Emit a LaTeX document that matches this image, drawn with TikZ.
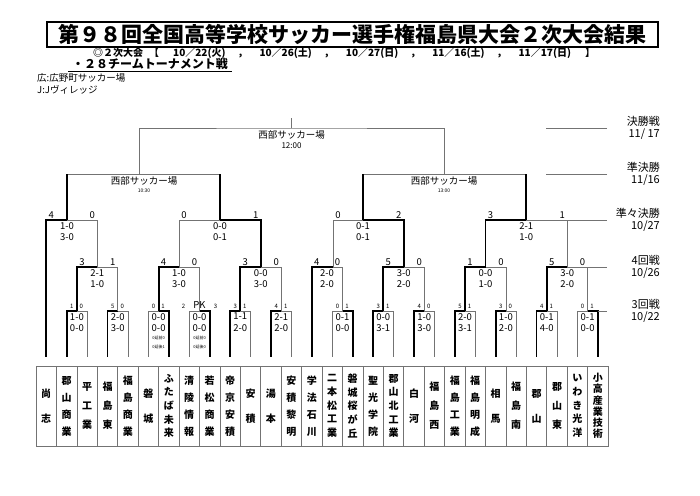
\documentclass[tikz,border=0pt]{standalone}
\usepackage{fontspec}
\setmainfont{Noto Sans CJK JP}

\begin{document}
\begin{tikzpicture}[x=1pt,y=-1pt,
    win/.style={line width=1.8pt},
    lose/.style={line width=0.6pt,draw=black!55},
    pts/.style={font=\fontsize{9.5}{9.5}\selectfont,inner sep=0pt},
    ptsm/.style={font=\fontsize{6}{6}\selectfont,inner sep=0pt},
    res/.style={font=\fontsize{9.5}{11.5}\selectfont,inner sep=0pt,align=center,anchor=north},
    ext/.style={font=\fontsize{4}{9}\selectfont,inner sep=0pt,align=center,anchor=north},
    venue/.style={font=\fontsize{9.5}{9.5}\selectfont,inner sep=0pt},
    round/.style={font=\fontsize{11}{12.5}\selectfont,inner sep=0pt,align=right,anchor=east},
    team/.style={draw=black!55,line width=0.6pt,minimum width=20.43pt,minimum height=80pt,
      inner sep=0pt,align=center,font=\bfseries\fontsize{10}{#1}\selectfont}]

  \useasboundingbox (0,0) rectangle (700,495);

  % heading
  \node[draw,line width=1.1pt,minimum width=611pt,minimum height=25pt,inner sep=0pt,
    font=\bfseries\fontsize{21}{21}\selectfont] (title) at (352.5,34.5)
    {第９８回全国高等学校サッカー選手権福島県大会２次大会結果};
  \node[anchor=west,inner sep=0pt,font=\bfseries\fontsize{10}{10}\selectfont] (sched) at (93,53)
    {◎２次大会\hspace{6pt}【\hspace{14pt}10／22(火)\hspace{12pt}，\hspace{12pt}10／26(土)\hspace{12pt}，\hspace{12pt}10／27(日)\hspace{12pt}，\hspace{12pt}11／16(土)\hspace{12pt}，\hspace{12pt}11／17(日)\hspace{14pt}】};
  \node[anchor=west,inner xsep=4pt,inner ysep=1pt,font=\bfseries\fontsize{12}{12}\selectfont] (kind) at (68,64)
    {・２８チームトーナメント戦};
  \draw (kind.south west) -- (kind.south east);
  \node[anchor=west,inner sep=0pt,font=\fontsize{9.5}{9.5}\selectfont] (hiro) at (37,78) {広:広野町サッカー場};
  \node[anchor=west,inner sep=0pt,font=\fontsize{9.5}{9.5}\selectfont] (jvil) at (37,90) {J:Jヴィレッジ};

  % teams
  \node[team=25] (n1) at (46.2,406) {尚\\志};
  \node[team=17] (n2) at (66.6,406) {郡\\山\\商\\業};
  \node[team=19] (n3) at (87.1,406) {平\\工\\業};
  \node[team=19] (n4) at (107.5,406) {福\\島\\東};
  \node[team=17] (n5) at (127.9,406) {福\\島\\商\\業};
  \node[team=25] (n6) at (148.4,406) {磐\\城};
  \node[team=13.7] (n7) at (168.8,406) {ふ\\た\\ば\\未\\来};
  \node[team=17] (n8) at (189.2,406) {清\\陵\\情\\報};
  \node[team=17] (n9) at (209.7,406) {若\\松\\商\\業};
  \node[team=17] (n10) at (230.1,406) {帝\\京\\安\\積};
  \node[team=25] (n11) at (250.5,406) {安\\積};
  \node[team=25] (n12) at (270.9,406) {湯\\本};
  \node[team=17] (n13) at (291.4,406) {安\\積\\黎\\明};
  \node[team=17] (n14) at (311.8,406) {学\\法\\石\\川};
  \node[team=13.7] (n15) at (332.2,406) {二\\本\\松\\工\\業};
  \node[team=13.7] (n16) at (352.7,406) {磐\\城\\桜\\が\\丘};
  \node[team=17] (n17) at (373.1,406) {聖\\光\\学\\院};
  \node[team=13.7] (n18) at (393.5,406) {郡\\山\\北\\工\\業};
  \node[team=25] (n19) at (414.0,406) {白\\河};
  \node[team=19] (n20) at (434.4,406) {福\\島\\西};
  \node[team=17] (n21) at (454.8,406) {福\\島\\工\\業};
  \node[team=17] (n22) at (475.2,406) {福\\島\\明\\成};
  \node[team=25] (n23) at (495.7,406) {相\\馬};
  \node[team=19] (n24) at (516.1,406) {福\\島\\南};
  \node[team=25] (n25) at (536.5,406) {郡\\山};
  \node[team=19] (n26) at (557.0,406) {郡\\山\\東};
  \node[team=13.7] (n27) at (577.4,406) {い\\わ\\き\\光\\洋};
  \node[team=11.2] (n28) at (597.8,406) {小\\高\\産\\業\\技\\術};

  % line feet above the team boxes
  \foreach \i in {1,...,28}
    \coordinate (t\i) at ([yshift=9pt]n\i.north);

  % match points
  \coordinate (a1) at (76.9,311);  \coordinate (a2) at (117.7,311);
  \coordinate (a3) at (158.6,311); \coordinate (a4) at (199.5,311);
  \coordinate (a5) at (240.3,311); \coordinate (a6) at (281.2,311);
  \coordinate (a7) at (342.5,311); \coordinate (a8) at (383.3,311);
  \coordinate (a9) at (424.2,311); \coordinate (a10) at (465.0,311);
  \coordinate (a11) at (505.9,311); \coordinate (a12) at (546.8,311);
  \coordinate (a13) at (587.6,311);
  \coordinate (b1) at (97.3,267);  \coordinate (b2) at (179.0,267);
  \coordinate (b3) at (260.7,267); \coordinate (b4) at (333.0,267);
  \coordinate (b5) at (403.7,267); \coordinate (b6) at (485.5,267);
  \coordinate (b7) at (567.2,267);
  \coordinate (q1) at (67,220);    \coordinate (q2) at (220,220);
  \coordinate (q3) at (363,220);   \coordinate (q4) at (526.3,220);
  \coordinate (s1) at (139,174);   \coordinate (s2) at (444.5,174);
  \coordinate (f) at (291.5,128);

  % 3rd round
  \draw[lose] (t3) |- (a1);  \draw[win] (t2) |- (a1);
  \draw[lose] (t5) |- (a2);  \draw[win] (t4) |- (a2);
  \draw[lose] (t6) |- (a3);  \draw[win] (t7) |- (a3);
  \draw[lose] (t8) |- (a4);  \draw[win] (t9) |- (a4);
  \draw[lose] (t11) |- (a5); \draw[win] (t10) |- (a5);
  \draw[lose] (t13) |- (a6); \draw[win] (t12) |- (a6);
  \draw[lose] (t15) |- (a7); \draw[win] (t16) |- (a7);
  \draw[lose] (t18) |- (a8); \draw[win] (t17) |- (a8);
  \draw[lose] (t20) |- (a9); \draw[win] (t19) |- (a9);
  \draw[lose] (t22) |- (a10); \draw[win] (t21) |- (a10);
  \draw[lose] (t24) |- (a11); \draw[win] (t23) |- (a11);
  \draw[lose] (t26) |- (a12); \draw[win] (t25) |- (a12);
  \draw[lose] (t27) |- (a13); \draw[win] (t28) |- (a13);
  % 4th round
  \draw[lose] (a2) |- (b1);  \draw[win] (a1) |- (b1);
  \draw[lose] (a4) |- (b2);  \draw[win] (a3) |- (b2);
  \draw[lose] (a6) |- (b3);  \draw[win] (a5) |- (b3);
  \draw[lose] (a7) |- (b4);  \draw[win] (t14) |- (b4);
  \draw[lose] (a9) |- (b5);  \draw[win] (a8) |- (b5);
  \draw[lose] (a11) |- (b6); \draw[win] (a10) |- (b6);
  \draw[lose] (a13) |- (b7); \draw[win] (a12) |- (b7);
  % quarter finals
  \draw[lose] (b1) |- (q1);  \draw[win] (t1) |- (q1);
  \draw[lose] (b2) |- (q2);  \draw[win] (b3) |- (q2);
  \draw[lose] (b4) |- (q3);  \draw[win] (b5) |- (q3);
  \draw[lose] (b7) |- (q4);  \draw[win] (b6) |- (q4);
  % semi finals and final
  \draw[lose] (q1 |- s1) -- (q2 |- s1);
  \draw[lose] (q3 |- s2) -- (q4 |- s2);
  \draw[win] (q1) -- (q1 |- s1);  \draw[win] (q2) -- (q2 |- s1);
  \draw[win] (q3) -- (q3 |- s2);  \draw[win] (q4) -- (q4 |- s2);
  \draw[lose] (s1) |- (f) -| (s2);
  \draw[lose] (f) -- ++(0,-10);

  % round guide lines and labels
  \coordinate (g5) at (607,128); \coordinate (g4) at (607,174);
  \coordinate (g3) at (607,220); \coordinate (g2) at (607,267);
  \coordinate (g1) at (607,311);
  \draw[lose] (g5) -- ++(-61,0);
  \draw[lose] (g4) -- ++(-61,0);
  \draw[lose] (b7 |- q4) -- (g3);
  \draw[lose] (a13 |- b7) -- (g2);
  \draw[lose] (t28 |- a13) -- (g1);
  \node[round] (r5) at (660,128) {決勝戦\\11/ 17};
  \node[round] (r4) at (660,174) {準決勝\\11/16};
  \node[round] (r3) at (660,220) {準々決勝\\10/27};
  \node[round] (r2) at (660,267) {4回戦\\10/26};
  \node[round] (r1) at (660,311) {3回戦\\10/22};

  % venues
  \node[venue] (v0) at (291.5,135) {西部サッカー場};
  \node[font=\fontsize{8}{8}\selectfont,inner sep=0pt] (v0t) at (291.5,146) {12:00};
  \node[venue] (v1) at (144,181) {西部サッカー場};
  \node[font=\fontsize{5}{5}\selectfont,inner sep=0pt] (v1t) at (144,191) {10:30};
  \node[venue] (v2) at (444,181) {西部サッカー場};
  \node[font=\fontsize{5}{5}\selectfont,inner sep=0pt] (v2t) at (444,191) {13:00};

  % quarter final scores
  \node[pts] (q1l) at (51.2,215) {4};  \node[pts] (q1r) at (92.3,215) {0};
  \node[res] (q1s) at (67,222) {1-0\\3-0};
  \node[pts] (q2l) at (184,215) {0};   \node[pts] (q2r) at (255.7,215) {1};
  \node[res] (q2s) at (220,222) {0-0\\0-1};
  \node[pts] (q3l) at (338,215) {0};   \node[pts] (q3r) at (398.7,215) {2};
  \node[res] (q3s) at (363,222) {0-1\\0-1};
  \node[pts] (q4l) at (490.5,215) {3}; \node[pts] (q4r) at (562.2,215) {1};
  \node[res] (q4s) at (526.3,222) {2-1\\1-0};

  % 4th round scores
  \node[pts] (b1l) at (82,262) {3};    \node[pts] (b1r) at (112.7,262) {1};
  \node[res] (b1s) at (97.3,269) {2-1\\1-0};
  \node[pts] (b2l) at (163.6,262) {4}; \node[pts] (b2r) at (194.5,262) {0};
  \node[res] (b2s) at (179,269) {1-0\\3-0};
  \node[pts] (b3l) at (245.3,262) {3}; \node[pts] (b3r) at (276.2,262) {0};
  \node[res] (b3s) at (260.7,269) {0-0\\3-0};
  \node[pts] (b4l) at (316.8,262) {4}; \node[pts] (b4r) at (337.5,262) {0};
  \node[res] (b4s) at (327,269) {2-0\\2-0};
  \node[pts] (b5l) at (388.3,262) {5}; \node[pts] (b5r) at (419.2,262) {0};
  \node[res] (b5s) at (403.7,269) {3-0\\2-0};
  \node[pts] (b6l) at (470,262) {1};   \node[pts] (b6r) at (500.9,262) {0};
  \node[res] (b6s) at (485.5,269) {0-0\\1-0};
  \node[pts] (b7l) at (551.8,262) {5}; \node[pts] (b7r) at (582.6,262) {0};
  \node[res] (b7s) at (567.2,269) {3-0\\2-0};

  % 3rd round scores
  \node[ptsm] (a1l) at ([shift={(-5,-5)}]a1) {1};   \node[ptsm] (a1r) at ([shift={(4.5,-5)}]a1) {0};
  \node[res] (a1s) at ([shift={(0,2)}]a1) {1-0\\0-0};
  \node[ptsm] (a2l) at ([shift={(-5,-5)}]a2) {5};   \node[ptsm] (a2r) at ([shift={(4.5,-5)}]a2) {0};
  \node[res] (a2s) at ([shift={(0,2)}]a2) {2-0\\3-0};
  \node[ptsm] (a3l) at ([shift={(-5,-5)}]a3) {0};   \node[ptsm] (a3r) at ([shift={(4.5,-5)}]a3) {1};
  \node[res] (a3s) at ([shift={(0,2)}]a3) {0-0\\0-0};
  \node[ext] (a3e) at ([shift={(0,25)}]a3) {0延前0\\0延後1};
  \node[ptsm] (a4l) at ([shift={(-16,-5)}]a4) {2};  \node[ptsm] (a4r) at ([shift={(16,-5)}]a4) {3};
  \node[pts] (a4p) at ([shift={(0,-5.5)}]a4) {PK};
  \node[res] (a4s) at ([shift={(0,2)}]a4) {0-0\\0-0};
  \node[ext] (a4e) at ([shift={(0,25)}]a4) {0延前0\\0延後0};
  \node[ptsm] (a5l) at ([shift={(-5,-5)}]a5) {3};   \node[ptsm] (a5r) at ([shift={(4.5,-5)}]a5) {1};
  \node[res] (a5s) at ([shift={(0,2)}]a5) {1-1\\2-0};
  \node[ptsm] (a6l) at ([shift={(-5,-5)}]a6) {4};   \node[ptsm] (a6r) at ([shift={(4.5,-5)}]a6) {1};
  \node[res] (a6s) at ([shift={(0,2)}]a6) {2-1\\2-0};
  \node[ptsm] (a7l) at ([shift={(-5,-5)}]a7) {0};   \node[ptsm] (a7r) at ([shift={(4.5,-5)}]a7) {1};
  \node[res] (a7s) at ([shift={(0,2)}]a7) {0-1\\0-0};
  \node[ptsm] (a8l) at ([shift={(-5,-5)}]a8) {3};   \node[ptsm] (a8r) at ([shift={(4.5,-5)}]a8) {1};
  \node[res] (a8s) at ([shift={(0,2)}]a8) {0-0\\3-1};
  \node[ptsm] (a9l) at ([shift={(-5,-5)}]a9) {4};   \node[ptsm] (a9r) at ([shift={(4.5,-5)}]a9) {0};
  \node[res] (a9s) at ([shift={(0,2)}]a9) {1-0\\3-0};
  \node[ptsm] (a10l) at ([shift={(-5,-5)}]a10) {5}; \node[ptsm] (a10r) at ([shift={(4.5,-5)}]a10) {1};
  \node[res] (a10s) at ([shift={(0,2)}]a10) {2-0\\3-1};
  \node[ptsm] (a11l) at ([shift={(-5,-5)}]a11) {3}; \node[ptsm] (a11r) at ([shift={(4.5,-5)}]a11) {0};
  \node[res] (a11s) at ([shift={(0,2)}]a11) {1-0\\2-0};
  \node[ptsm] (a12l) at ([shift={(-5,-5)}]a12) {4}; \node[ptsm] (a12r) at ([shift={(4.5,-5)}]a12) {1};
  \node[res] (a12s) at ([shift={(0,2)}]a12) {0-1\\4-0};
  \node[ptsm] (a13l) at ([shift={(-5,-5)}]a13) {0}; \node[ptsm] (a13r) at ([shift={(4.5,-5)}]a13) {1};
  \node[res] (a13s) at ([shift={(0,2)}]a13) {0-1\\0-0};
\end{tikzpicture}
\end{document}
